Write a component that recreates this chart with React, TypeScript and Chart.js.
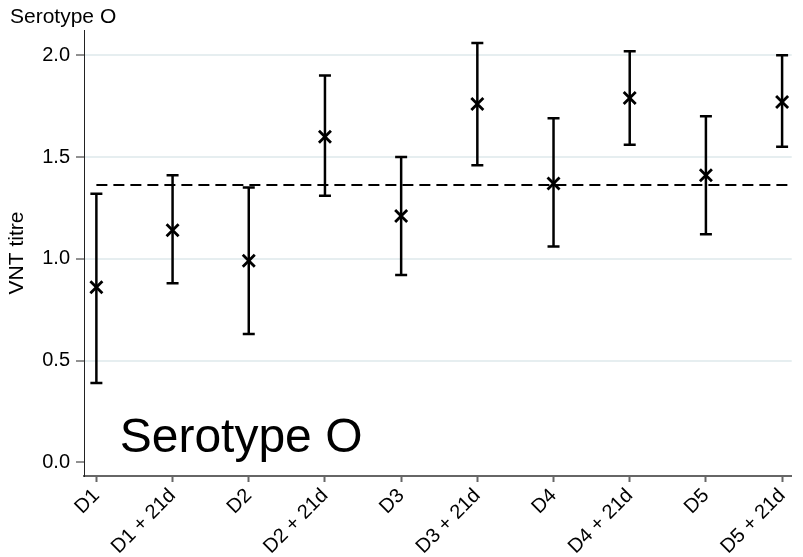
import React, { useEffect, useRef } from "react";
import { Chart, registerables } from "chart.js";

Chart.register(...registerables);

const categories = ["D1", "D1 + 21d", "D2", "D2 + 21d", "D3", "D3 + 21d", "D4", "D4 + 21d", "D5", "D5 + 21d"];
const means = [0.86, 1.14, 0.99, 1.6, 1.21, 1.76, 1.37, 1.79, 1.41, 1.77];
const lower = [0.39, 0.88, 0.63, 1.31, 0.92, 1.46, 1.06, 1.56, 1.12, 1.55];
const upper = [1.32, 1.41, 1.35, 1.9, 1.5, 2.06, 1.69, 2.02, 1.7, 2.0];
const threshold = 1.363;
const yTicks = [0, 0.5, 1, 1.5, 2];
const titleText = "Serotype O";
const yAxisTitle = "VNT titre";

const FONT = "'Liberation Sans', Arial, Helvetica, sans-serif";

export default function App() {
  const ref = useRef<HTMLCanvasElement | null>(null);

  useEffect(() => {
    const canvas = ref.current;
    if (!canvas) return;

    const overlay = {
      id: "overlay",
      beforeDatasetsDraw(chart: any) {
        const { ctx, chartArea, scales } = chart;
        const xs = scales.x;
        const ys = scales.y;
        ctx.save();
        ctx.beginPath();
        ctx.rect(chartArea.left, chartArea.top, chartArea.right - chartArea.left, chartArea.bottom - chartArea.top);
        ctx.clip();
        ctx.strokeStyle = "#000";
        ctx.lineWidth = 2;
        ctx.setLineDash([11, 6]);
        const ty = ys.getPixelForValue(threshold);
        ctx.beginPath();
        ctx.moveTo(xs.getPixelForValue(0), ty);
        ctx.lineTo(chartArea.right, ty);
        ctx.stroke();
        ctx.setLineDash([]);
        ctx.lineWidth = 2.5;
        const cap = 6;
        for (let i = 0; i < categories.length; i++) {
          const x = xs.getPixelForValue(i);
          const yl = ys.getPixelForValue(lower[i]);
          const yu = ys.getPixelForValue(upper[i]);
          ctx.beginPath();
          ctx.moveTo(x, yl);
          ctx.lineTo(x, yu);
          ctx.moveTo(x - cap, yl);
          ctx.lineTo(x + cap, yl);
          ctx.moveTo(x - cap, yu);
          ctx.lineTo(x + cap, yu);
          ctx.stroke();
        }
        ctx.restore();
      },
      afterDraw(chart: any) {
        const { ctx, scales } = chart;
        ctx.save();
        ctx.fillStyle = "#000";
        ctx.textBaseline = "alphabetic";
        ctx.textAlign = "left";
        ctx.font = `21px ${FONT}`;
        ctx.fillText(titleText, 10, 23);
        ctx.font = `48px ${FONT}`;
        ctx.fillText(titleText, scales.x.getPixelForValue(0.306), scales.y.getPixelForValue(0.05));
        ctx.restore();
      },
    };

    const chart = new Chart(canvas, {
      type: "scatter",
      data: {
        datasets: [
          {
            data: means.map((v, i) => ({ x: i, y: v })),
            pointStyle: "crossRot",
            pointRadius: 8.5,
            pointBorderWidth: 2.8,
            borderColor: "#000",
            backgroundColor: "#000",
          },
        ],
      },
      options: {
        animation: false,
        responsive: false,
        devicePixelRatio: 1,
        layout: { padding: { top: 30, left: 0, right: 0, bottom: 0 } },
        plugins: {
          legend: { display: false },
          tooltip: { enabled: false },
          title: { display: false },
        },
        scales: {
          x: {
            type: "linear",
            min: -0.1625,
            max: 9.126,
            afterBuildTicks: (scale: any) => {
              scale.ticks = categories.map((_, i) => ({ value: i }));
            },
            afterFit: (scale: any) => {
              scale.height = 81;
              scale.paddingLeft = 0;
              scale.paddingRight = 0;
            },
            ticks: {
              autoSkip: false,
              minRotation: 45,
              maxRotation: 45,
              padding: 2,
              color: "#000",
              font: { family: FONT, size: 20 },
              callback: (v: any) => categories[Math.round(Number(v))] ?? "",
            },
            grid: {
              drawOnChartArea: false,
              drawTicks: true,
              tickLength: 6,
              tickColor: "#666",
              tickWidth: 2,
            },
            border: { display: true, color: "#666", width: 2 },
          },
          y: {
            type: "linear",
            min: -0.067,
            max: 2.124,
            afterBuildTicks: (scale: any) => {
              scale.ticks = yTicks.map((v) => ({ value: v }));
            },
            afterFit: (scale: any) => {
              scale.width = 84;
            },
            ticks: {
              padding: 6,
              color: "#000",
              font: { family: FONT, size: 20 },
              callback: (v: any) => Number(v).toFixed(1),
            },
            grid: {
              color: (c: any) => (c.tick && c.tick.value === 0 ? "rgba(0,0,0,0)" : "#e6eef0"),
              lineWidth: 2,
              tickColor: "#222",
              tickWidth: 1,
              tickLength: 8,
            },
            border: { display: true, color: "#222", width: 1 },
            title: {
              display: true,
              text: yAxisTitle,
              color: "#000",
              font: { family: FONT, size: 21 },
              padding: { top: 5, bottom: 0 },
            },
          },
        },
      },
      plugins: [overlay],
    });

    return () => chart.destroy();
  }, []);

  return (
    <div style={{ position: "absolute", left: 0, top: 0, width: 803, height: 557, background: "#fff" }}>
      <canvas ref={ref} width={803} height={557} style={{ display: "block" }} />
    </div>
  );
}
